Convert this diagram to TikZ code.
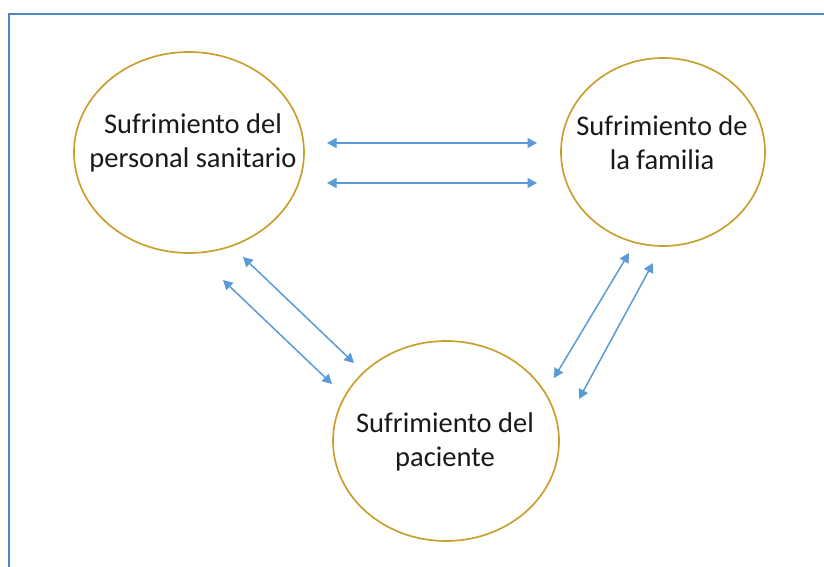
\documentclass[tikz,border=0pt]{standalone}
\usepackage{fontspec}
\setmainfont{Carlito}
\usetikzlibrary{shapes.geometric,arrows.meta}
\definecolor{arrowblue}{HTML}{5B9BD5}
\definecolor{frameblue}{HTML}{4F86C6}
\definecolor{ovalgold}{HTML}{C9A030}
\tikzset{
  oval/.style={ellipse, draw=ovalgold, line width=1.7pt, inner sep=0pt},
  lbl/.style={align=center, font=\fontsize{28.5pt}{34pt}\selectfont, text=black!90, inner sep=0pt},
  biarrow/.style={draw=arrowblue, line width=1.5pt, {Triangle[length=9.5pt,width=10pt]}-{Triangle[length=9.5pt,width=10pt]}},
  frame/.style={draw=frameblue, line width=2pt}
}
\begin{document}
\begin{tikzpicture}[x=1pt,y=-1pt]
\useasboundingbox (0,0) rectangle (824,567);
% frame
\coordinate (fb) at (8.5,580);
\coordinate (fc) at (8.5,14.5);
\coordinate (fr) at (840,14.5);
\draw[frame] (fb) -- (fc) -- (fr);
% ellipses
\node[oval, minimum width=230pt, minimum height=201pt] (staff) at (189,152.5) {};
\node[lbl] (staffT) at (193,143) {Sufrimiento del\\personal sanitario};
\node[oval, minimum width=204pt, minimum height=188pt] (family) at (663,152) {};
\node[lbl] (familyT) at (662,143) {Sufrimiento de\\la familia};
\node[oval, minimum width=226pt, minimum height=200pt] (patient) at (446,441) {};
\node[lbl] (patientT) at (445,441.5) {Sufrimiento del\\paciente};
% arrow end points
\coordinate (h1a) at (327,143); \coordinate (h1b) at (537,143);
\coordinate (h2a) at (327,183); \coordinate (h2b) at (537,183);
\coordinate (d1a) at (243,257); \coordinate (d1b) at (354,363);
\coordinate (d2a) at (223,280); \coordinate (d2b) at (332,384);
\coordinate (d3a) at (629,253); \coordinate (d3b) at (554,378);
\coordinate (d4a) at (653,263); \coordinate (d4b) at (579,399);
\draw[biarrow] (h1a) -- (h1b);
\draw[biarrow] (h2a) -- (h2b);
\draw[biarrow] (d1a) -- (d1b);
\draw[biarrow] (d2a) -- (d2b);
\draw[biarrow] (d3a) -- (d3b);
\draw[biarrow] (d4a) -- (d4b);
\end{tikzpicture}
\end{document}
